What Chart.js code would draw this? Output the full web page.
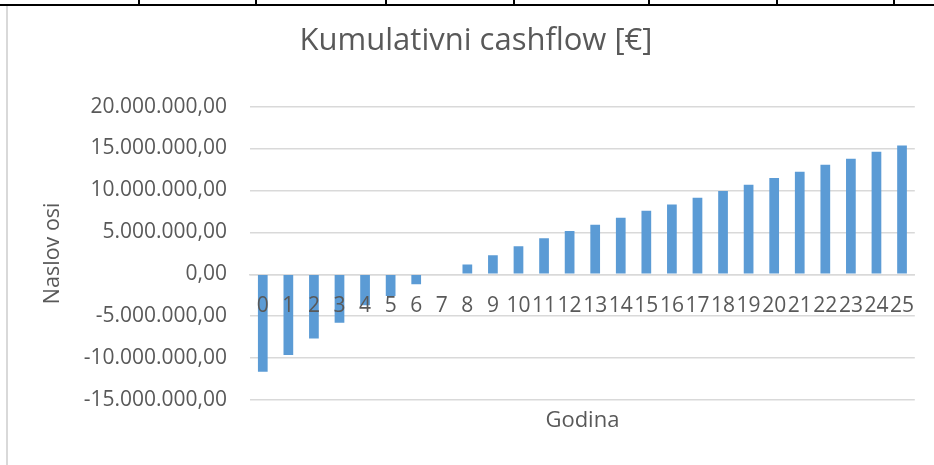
<!DOCTYPE html>
<html>
<head>
<meta charset="utf-8">
<script src="https://cdn.jsdelivr.net/npm/chart.js@4.4.0/dist/chart.umd.min.js"></script>
<style>
  html, body { margin: 0; padding: 0; background: #ffffff; }
  #wrap { position: relative; width: 934px; height: 465px; }
  canvas { display: block; }
</style>
</head>
<body>
<div id="wrap"><canvas id="c" width="934" height="465"></canvas></div>
<script>
const years = ['0','1','2','3','4','5','6','7','8','9','10','11','12','13','14','15','16','17','18','19','20','21','22','23','24','25'];
const cumulativeCashflow = [
  -11630000, -9640000, -7660000, -5790000, -3690000, -2580000, -1190000, 0,
  1150000, 2260000, 3330000, 4290000, 5160000, 5910000, 6750000, 7580000,
  8330000, 9130000, 9920000, 10670000, 11470000, 12220000, 13060000, 13770000,
  14600000, 15360000
];
const chartTitle = 'Kumulativni cashflow [€]';
const xTitle = 'Godina';
const yTitle = 'Naslov osi';
const sheetColumnEdges = [138, 255, 385, 513, 648, 776, 893];

function fmt(v) {
  const neg = v < 0;
  const s = Math.round(Math.abs(v)).toString().replace(/\B(?=(\d{3})+(?!\d))/g, '.');
  return (neg ? '-' : '') + s + ',00';
}

const FONT = '"Open Sans", "Liberation Sans", sans-serif';
const GREY = '#595959';

const sheetDecor = {
  id: 'sheetDecor',
  beforeDraw(chart) {
    const ctx = chart.ctx;
    ctx.save();
    ctx.fillStyle = '#ffffff';
    ctx.fillRect(0, 0, chart.width, chart.height);
    ctx.fillStyle = '#000000';
    ctx.fillRect(0, 4, chart.width, 2);
    sheetColumnEdges.forEach(x => ctx.fillRect(x, 0, 2, 5));
    ctx.fillStyle = '#d9d9d9';
    ctx.fillRect(6, 6, 2, chart.height - 6);
    ctx.restore();
  }
};

new Chart(document.getElementById('c'), {
  type: 'bar',
  data: {
    labels: years,
    datasets: [{
      data: cumulativeCashflow,
      backgroundColor: '#5B9BD5',
      borderWidth: 0,
      barPercentage: 0.38,
      categoryPercentage: 1.0
    }]
  },
  plugins: [sheetDecor],
  options: {
    responsive: false,
    animation: false,
    layout: { padding: { left: 34, right: 16, top: 0, bottom: 0 } },
    plugins: {
      legend: { display: false },
      tooltip: { enabled: false },
      title: {
        display: true,
        text: chartTitle,
        color: GREY,
        font: { family: FONT, size: 31, weight: 'normal' },
        padding: { top: 23, bottom: 46.4 }
      }
    },
    scales: {
      x: {
        type: 'category',
        position: { y: 0 },
        offset: true,
        grid: { display: false, drawTicks: false },
        border: { display: true, color: '#d9d9d9', width: 1.5 },
        ticks: {
          z: 1,
          color: GREY,
          font: { family: FONT, size: 21 },
          padding: 19.6,
          maxRotation: 0,
          minRotation: 0,
          autoSkip: false
        }
      },
      x2: {
        type: 'category',
        position: 'bottom',
        offset: true,
        grid: { display: false, drawTicks: false },
        border: { display: false },
        ticks: { display: false },
        title: {
          display: true,
          text: xTitle,
          color: GREY,
          font: { family: FONT, size: 22, weight: 'normal' },
          padding: { top: 7.1, bottom: 31.5 }
        }
      },
      y: {
        min: -15000000,
        max: 20000000,
        grid: { color: '#d9d9d9', lineWidth: 1.5, drawTicks: false },
        border: { display: false },
        ticks: {
          stepSize: 5000000,
          color: GREY,
          font: { family: FONT, size: 21 },
          padding: 23,
          callback: (v) => fmt(v)
        },
        title: {
          display: true,
          text: yTitle,
          color: GREY,
          font: { family: FONT, size: 21.5, weight: 'normal' },
          padding: { top: 6, bottom: 0 }
        },
        afterFit(scale) { scale.width = 216; }
      }
    }
  }
});
</script>
</body>
</html>
